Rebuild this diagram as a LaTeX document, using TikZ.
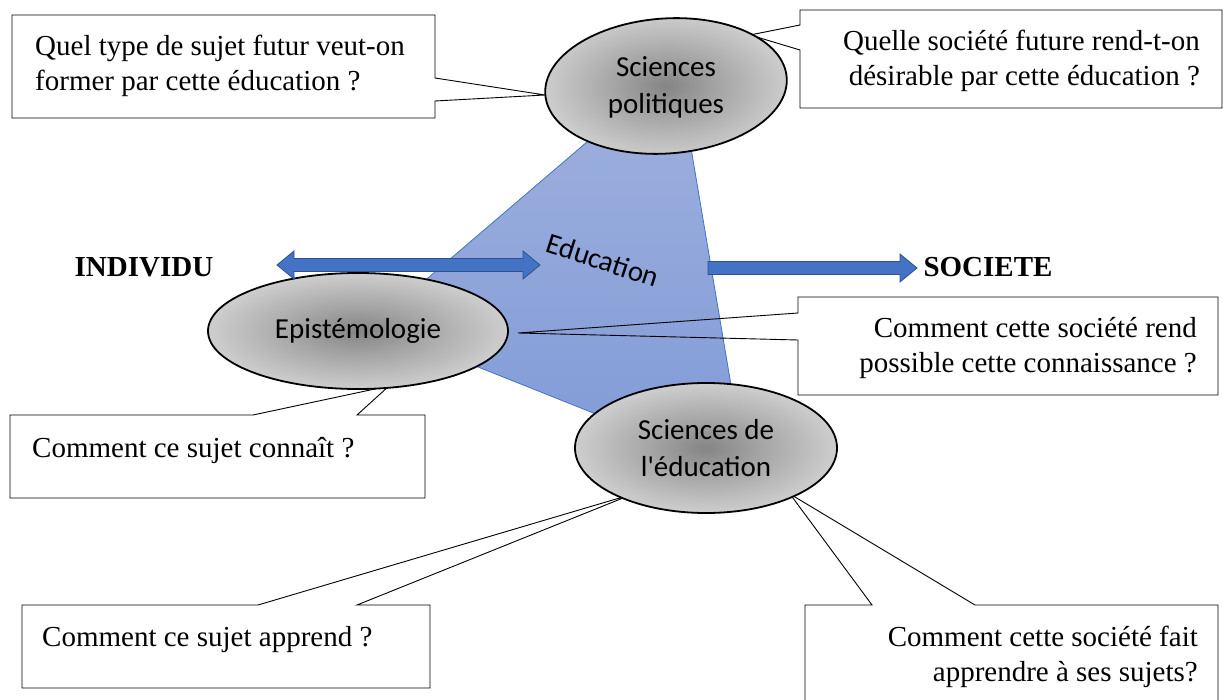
\documentclass[tikz,border=0pt]{standalone}
\usepackage{fontspec}
\setmainfont{Liberation Serif}
\newfontfamily\calibri{Carlito}
\usetikzlibrary{shapes.geometric}
\definecolor{arrowblue}{HTML}{4472C4}
\definecolor{arrowedge}{HTML}{2F528F}
\definecolor{tritop}{HTML}{A0B1DE}
\definecolor{tribot}{HTML}{7F9AD7}
\pgfdeclareradialshading{ellshade}{\pgfpoint{0bp}{0bp}}{color(0bp)=(black!48); color(10bp)=(black!36); color(28bp)=(black!16); color(50bp)=(black!3)}
\tikzset{
  qline/.style={draw=black, line width=0.9pt, line join=miter},
  qtext/.style={font=\fontsize{29}{35}\selectfont, inner sep=0pt},
  ell/.style={ellipse, draw=black, line width=1.8pt, shading=ellshade, inner sep=0pt,
              font=\calibri\fontsize{29}{37}\selectfont, align=center},
  elltext/.style={font=\calibri\fontsize{29}{37}\selectfont, align=center, inner sep=0pt},
  blockarrow/.style={fill=arrowblue, draw=arrowedge, line width=0.8pt, line join=miter},
  side/.style={font=\bfseries\fontsize{29}{35}\selectfont, inner sep=0pt},
  tri/.style={top color=tritop, bottom color=tribot, draw=arrowblue, line width=0.8pt}
}
\begin{document}
\begin{tikzpicture}[x=1pt,y=-1pt]
\path[use as bounding box, clip] (0,0) rectangle (1223,700);
\fill[white] (0,0) rectangle (1223,700);

% central triangle
\coordinate (tA) at (677,65);
\coordinate (tB) at (373,325);
\coordinate (tC) at (746,474);
\path[tri] (tA) -- (tB) -- (tC) -- cycle;
\node[font=\calibri\fontsize{29}{35}\selectfont, rotate=-18, inner sep=0pt] (edu) at (603,260) {Education};

% callout tips
\coordinate (tipA) at (545,95);
\coordinate (tipB) at (750,35);
\coordinate (tipC) at (518,333);
\coordinate (tipD) at (389,386);
\coordinate (tipE) at (633,494);
\coordinate (tipF) at (790,494);

% callout outlines
\draw[qline] (12,15) -- (435,15) -- (435,78) -- (tipA) -- (435,101) -- (435,118) -- (12,118) -- cycle;
\draw[qline] (800,10) -- (1222,10) -- (1222,108) -- (800,108) -- (800,50) -- (tipB) -- (800,25) -- cycle;
\draw[qline] (798,297) -- (1218,297) -- (1218,395) -- (798,395) -- (798,340) -- (tipC) -- (798,313) -- cycle;
\draw[qline] (10,415) -- (253,415) -- (tipD) -- (357,415) -- (425,415) -- (425,498) -- (10,498) -- cycle;
\draw[qline] (22,605) -- (258,605) -- (tipE) -- (357,605) -- (430,605) -- (430,688) -- (22,688) -- cycle;
\draw[qline] (805,705) -- (805,605) -- (872,605) -- (tipF) -- (975,605) -- (1218,605) -- (1218,705);

% callout texts
\node[qtext, anchor=north west, align=left] (q1) at (35,30.5) {\strut Quel type de sujet futur veut-on\\former par cette éducation ?};
\node[qtext, anchor=north east, align=right] (q2) at (1200,25.5) {\strut Quelle société future rend-t-on\\désirable par cette éducation ?};
\node[qtext, anchor=north east, align=right] (q3) at (1197,312.5) {\strut Comment cette société rend\\possible cette connaissance ?};
\node[qtext, anchor=north west, align=left] (q4) at (32,432.5) {\strut Comment ce sujet connaît ?};
\node[qtext, anchor=north west, align=left] (q5) at (42,621.5) {\strut Comment ce sujet apprend ?};
\node[qtext, anchor=north east, align=right] (q6) at (1198,621.5) {\strut Comment cette société fait\\apprendre à ses sujets?};

% ellipses
\node[ell, minimum width=242pt, minimum height=135pt, rotate=4] (sp) at (666,86) {};
\node[elltext] (sptext) at (666,87) {Sciences\\politiques};
\node[ell, minimum width=300pt, minimum height=116pt] (ep) at (358,331) {Epistémologie};
\node[ell, minimum width=262pt, minimum height=130pt] (se) at (706,448) {Sciences de\\l'éducation};

% block arrows
\path[blockarrow] (277,265) -- (294,251) -- (294,258.5) -- (523,258.5) -- (523,251) -- (540,265)
   -- (523,279) -- (523,271.5) -- (294,271.5) -- (294,279) -- cycle;
\path[blockarrow] (708,261.5) -- (900,261.5) -- (900,254) -- (917,268) -- (900,282) -- (900,274.5) -- (708,274.5) -- cycle;

\node[side] (indiv) at (144,267) {INDIVIDU};
\node[side] (soc) at (988,267) {SOCIETE};
\end{tikzpicture}
\end{document}
